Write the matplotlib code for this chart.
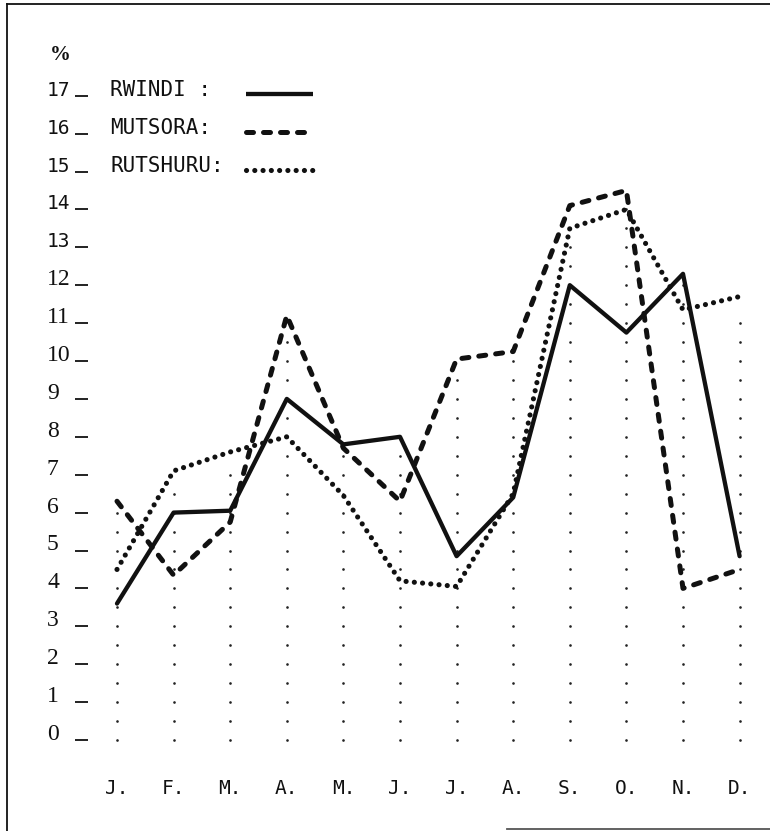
import numpy as np
import matplotlib
matplotlib.use("Agg")
import matplotlib.pyplot as plt
from matplotlib.lines import Line2D
from matplotlib.transforms import blended_transform_factory

# ---- data ----
months = ["J.", "F.", "M.", "A.", "M.", "J.", "J.", "A.", "S.", "O.", "N.", "D."]
rwindi = [3.6, 6.0, 6.05, 9.0, 7.8, 8.0, 4.85, 6.4, 12.0, 10.75, 12.3, 4.85]
mutsora = [6.3, 4.35, 5.75, 11.2, 7.7, 6.3, 10.05, 10.25, 14.1, 14.5, 4.0, 4.5]
rutshuru = [4.5, 7.1, 7.6, 8.0, 6.45, 4.2, 4.05, 6.5, 13.5, 14.0, 11.35, 11.7]
series_names = ["RWINDI :", "MUTSORA:", "RUTSHURU:"]
y_ticks = list(range(0, 18))
y_unit = "%"

W, H = 770, 831
fig = plt.figure(figsize=(W / 100, H / 100), dpi=100)
fig.patch.set_facecolor("white")

# axes placement in pixels
L, R, T, B = 88, 765, 30, 760
ax = fig.add_axes([L / W, 1 - B / H, (R - L) / W, (B - T) / H])
x0, dx = 117, 56.6
y0, dy = 740, 37.9
ax.set_xlim((L - x0) / dx, (R - x0) / dx)
ax.set_ylim((y0 - B) / dy, (y0 - T) / dy)
for s in ax.spines.values():
    s.set_visible(False)
ax.set_facecolor("none")

ink = "#111111"
x = np.arange(len(months))

# dotted vertical guides
series = [rwindi, mutsora, rutshuru]
for i in x:
    top = max(s[i] for s in series) - 0.25
    vals = np.arange(0, top + 0.01, 0.5)
    ax.plot(np.full(len(vals), i), vals, linestyle="none", marker="o",
            ms=1.9, mew=0, color="#222222", zorder=1)

styles = [
    dict(lw=3.1, linestyle="-"),
    dict(lw=3.6, linestyle=(0, (1.4, 2.0))),
    dict(lw=3.7, linestyle=(0, (0.01, 1.6))),
]

for vals, st in zip(series, styles):
    ax.plot(x, vals, color=ink, solid_capstyle="round", solid_joinstyle="round",
            dash_capstyle="round", zorder=3, **st)

# y ticks (dash marks), labels drawn manually
ax.set_yticks(y_ticks)
ax.set_yticklabels([])
ax.tick_params(axis="y", direction="out", length=9.4, width=1.3, color=ink)
tr = blended_transform_factory(fig.transFigure, ax.transData)
for v in y_ticks:
    if v >= 13:
        ax.text(47 / W, v, str(v), transform=tr, ha="left", va="baseline",
                fontsize=14, family="DejaVu Sans Mono", color=ink)
    else:
        ax.text(47 / W, v, str(v), transform=tr, ha="left", va="baseline",
                fontsize=17, family="Liberation Serif", color=ink)

ax.text(50 / W, (y0 - 60) / dy, y_unit, transform=tr, ha="left",
        va="baseline", fontsize=15, family="Liberation Serif",
        fontweight="bold", color=ink)

# x labels
ax.set_xticks(x)
ax.set_xticklabels(months, family="DejaVu Sans Mono", fontsize=14, color=ink)
ax.tick_params(axis="x", length=0, pad=14)

# legend (text + sample lines)
for k, (name, st) in enumerate(zip(series_names, styles)):
    v = y_ticks[-1] - k
    ax.text(110 / W, v, name, transform=tr, ha="left", va="baseline",
            fontsize=15, family="DejaVu Sans Mono", color=ink)
    ax.plot([246 / W, 313 / W], [v + 0.05, v + 0.05], transform=tr,
            color=ink, dash_capstyle="round", solid_capstyle="butt",
            clip_on=False, **st)

# frame
fig.add_artist(Line2D([7 / W, 7 / W], [0, 1 - 4 / H], transform=fig.transFigure,
                      color=ink, lw=1.3))
fig.add_artist(Line2D([7 / W, 1], [1 - 4 / H, 1 - 4 / H], transform=fig.transFigure,
                      color=ink, lw=1.3))
fig.add_artist(Line2D([507 / W, 1], [1 - 829 / H, 1 - 829 / H],
                      transform=fig.transFigure, color="#555555", lw=1.3))

fig.savefig("out.png", dpi=100, facecolor="white")
